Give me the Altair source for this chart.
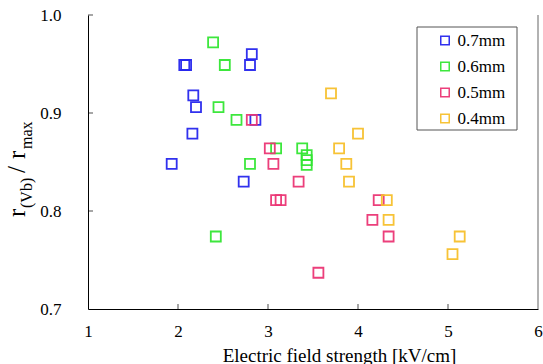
import altair as alt
import pandas as pd

# ---- data ----
series = ["0.7mm", "0.6mm", "0.5mm", "0.4mm"]
colors = ["#2626ee", "#33e633", "#ec3574", "#f7c02c"]

x_07 = [1.93, 2.07, 2.09, 2.16, 2.17, 2.20, 2.73, 2.80, 2.82, 2.86]
y_07 = [0.848, 0.949, 0.949, 0.879, 0.918, 0.906, 0.830, 0.949, 0.960, 0.893]
x_06 = [2.39, 2.42, 2.45, 2.52, 2.65, 2.80, 3.09, 3.38, 3.43, 3.43, 3.43]
y_06 = [0.972, 0.774, 0.906, 0.949, 0.893, 0.848, 0.864, 0.864, 0.857, 0.852, 0.847]
x_05 = [2.82, 3.02, 3.06, 3.09, 3.14, 3.34, 3.56, 4.16, 4.23, 4.34]
y_05 = [0.893, 0.864, 0.848, 0.811, 0.811, 0.830, 0.737, 0.791, 0.811, 0.774]
x_04 = [3.70, 3.79, 3.87, 3.90, 4.00, 4.32, 4.34, 5.05, 5.13]
y_04 = [0.920, 0.864, 0.848, 0.830, 0.879, 0.811, 0.791, 0.756, 0.774]

x_labels = [1, 2, 3, 4, 5, 6]
y_labels = [0.7, 0.8, 0.9, 1.0]
x_inner_ticks = [2, 3, 4, 5]
y_inner_ticks = [0.8, 0.9, 1.0]

FONT = "Liberation Serif"
W, H = 450, 294

rows = []
for name, xs_, ys_ in zip(series, [x_07, x_06, x_05, x_04], [y_07, y_06, y_05, y_04]):
    for a, b in zip(xs_, ys_):
        rows.append({"E": a, "r": b, "d": name})
df = pd.DataFrame(rows)

xscale = alt.Scale(domain=[1, 6], nice=False, zero=False)
yscale = alt.Scale(domain=[0.7, 1.0], nice=False, zero=False)

points = alt.Chart(df).mark_point(
    shape="square", filled=False, size=100, strokeWidth=1.8, opacity=0.95
).encode(
    x=alt.X("E:Q", scale=xscale, axis=alt.Axis(
        values=x_labels, format="d", title="Electric field strength [kV/cm]",
        titleFont=FONT, titleFontSize=19, titleFontWeight="normal", titleColor="#000",
        titleX=251, titleY=52, titleAlign="center", titleBaseline="alphabetic",
        titleAnchor="start",
        labelFont=FONT, labelFontSize=17, labelColor="#000", labelPadding=14,
        labelFlush=False, ticks=False, tickSize=0, grid=False,
        domainColor="#000", domainWidth=1)),
    y=alt.Y("r:Q", scale=yscale, axis=alt.Axis(
        values=y_labels, format=".1f", title=None,
        labelFont=FONT, labelFontSize=17, labelColor="#000", labelPadding=27,
        labelFlush=False, ticks=False, tickSize=0, grid=False,
        domainColor="#000", domainWidth=1)),
    color=alt.Color("d:N", scale=alt.Scale(domain=series, range=colors),
                    legend=alt.Legend(title=None, orient="none", legendX=348.5, legendY=17,
                                      padding=0, symbolType="square", symbolSize=72,
                                      symbolStrokeWidth=1.5, labelFont=FONT, labelFontSize=17,
                                      labelColor="#000", labelOffset=4, rowPadding=8)),
)

one = pd.DataFrame({"a": [0]})

legend_box = alt.Chart(one).mark_rect(fill="white", stroke="#555", strokeWidth=1).encode(
    x=alt.value(329), x2=alt.value(429), y=alt.value(12), y2=alt.value(115))

right_border = alt.Chart(one).mark_rule(color="#999", strokeWidth=1.5).encode(
    x=alt.value(W), y=alt.value(0), y2=alt.value(H))

xt = alt.Chart(pd.DataFrame({"v": x_inner_ticks})).mark_tick(
    color="#000", size=5, thickness=1).encode(
    x=alt.X("v:Q", scale=xscale), y=alt.value(H - 2.5))

yt = alt.Chart(pd.DataFrame({"v": y_inner_ticks})).mark_tick(
    color="#000", size=5, thickness=1).encode(
    y=alt.Y("v:Q", scale=yscale), x=alt.value(2.5))

def txt(s, x, y, size):
    return alt.Chart(one).mark_text(
        angle=270, align="left", baseline="alphabetic", font=FONT,
        fontSize=size, color="#000").encode(
        x=alt.value(x), y=alt.value(y), text=alt.value(s))

ytitle = (txt("r", -63, 202, 25) + txt("(Vb)", -56, 193, 16)
          + txt("/", -63, 158, 25) + txt("r", -63, 144, 25) + txt("max", -56, 134, 16))

chart = alt.layer(legend_box, right_border, xt, yt, ytitle, points).properties(
    width=W, height=H,
    autosize=alt.AutoSizeParams(type="none"),
    padding={"left": 88, "top": 15, "right": 5, "bottom": 55},
    background="white",
).configure(font=FONT).configure_view(stroke=None).configure_axis(
    labelFont=FONT, titleFont=FONT).configure_legend(labelFont=FONT)

chart.save("out.html", embed_options={"renderer": "svg", "actions": False})
